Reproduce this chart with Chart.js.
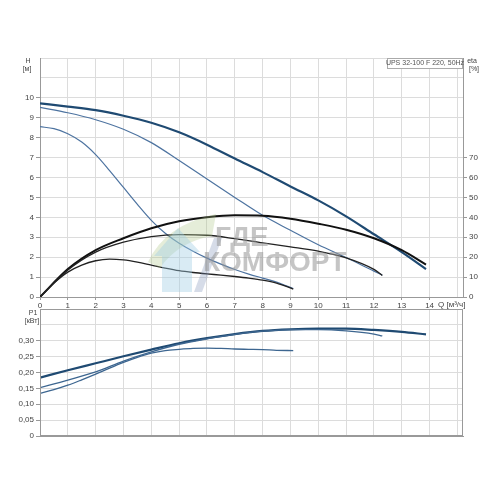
<!DOCTYPE html>
<html>
<head>
<meta charset="utf-8">
<script src="https://cdn.jsdelivr.net/npm/chart.js@4.4.1/dist/chart.umd.min.js"></script>
<style>
  body { margin: 0; background: #fff; }
  #wrap { position: relative; width: 496px; height: 496px; background: #fff; }
  canvas { position: absolute; left: 0; }
  #topChart { top: 0; }
  #bottomChart { top: 300px; }
</style>
</head>
<body>
<div id="wrap">
  <canvas id="topChart" width="496" height="318"></canvas>
  <canvas id="bottomChart" width="496" height="196"></canvas>
</div>
<script>
// Flow points per speed [m3/h]
const qSpeed3 = [0, 1, 2, 3, 4, 5, 6, 7, 8, 9, 10, 11, 12, 13, 13.87];
const qSpeed2 = [0, 1, 2, 3, 4, 5, 6, 7, 8, 9, 10, 11, 12, 12.3];
const qSpeed1 = [0, 0.5, 1, 1.5, 2, 2.5, 3, 3.5, 4, 4.5, 5, 5.5, 6, 6.5, 7, 7.5, 8, 8.5, 9.1];

// Head H [m]
const headSpeed3 = [9.72, 9.56, 9.38, 9.1, 8.75, 8.27, 7.65, 6.95, 6.27, 5.55, 4.85, 4.05, 3.15, 2.25, 1.4];
const headSpeed2 = [9.52, 9.25, 8.9, 8.42, 7.75, 6.85, 5.92, 5.0, 4.1, 3.35, 2.62, 1.98, 1.3, 1.1];
const headSpeed1 = [8.55, 8.45, 8.2, 7.78, 7.15, 6.35, 5.5, 4.65, 3.85, 3.2, 2.7, 2.3, 1.95, 1.65, 1.38, 1.15, 0.95, 0.75, 0.42];

// Efficiency eta [%]
const etaSpeed3 = [0, 14, 23.5, 29.5, 34.5, 38, 40, 41, 40.8, 39.3, 36.8, 33.8, 29.5, 23.5, 16.3];
const etaSpeed2 = [0, 13.5, 22.5, 27.5, 30.3, 31.3, 31, 29.3, 27.2, 25.2, 23, 19.7, 13.9, 10.8];
const etaSpeed1 = [0, 7, 12.5, 16, 18.2, 19, 18.6, 17.5, 16, 14.5, 13.2, 12.3, 11.6, 11, 10.3, 9.5, 8.5, 7, 4];

// Power P1 [kW]
const powerSpeed3 = [0.184, 0.207, 0.229, 0.251, 0.272, 0.292, 0.308, 0.321, 0.331, 0.336, 0.338, 0.338, 0.334, 0.328, 0.32];
const powerSpeed2 = [0.152, 0.176, 0.202, 0.236, 0.265, 0.289, 0.306, 0.32, 0.33, 0.335, 0.335, 0.331, 0.321, 0.315];
const powerSpeed1 = [0.134, 0.146, 0.16, 0.177, 0.195, 0.214, 0.232, 0.248, 0.261, 0.269, 0.273, 0.276, 0.277, 0.276, 0.274, 0.273, 0.272, 0.27, 0.269];

// Tick labels
const qTicks = [0, 1, 2, 3, 4, 5, 6, 7, 8, 9, 10, 11, 12, 13, 14, 15];
const hTicks = [0, 1, 2, 3, 4, 5, 6, 7, 8, 9, 10, 11, 12];
const etaTicks = [0, 10, 20, 30, 40, 50, 60, 70];
const pTicks = [0, 0.05, 0.1, 0.15, 0.2, 0.25, 0.3, 0.35, 0.4];

const pumpLabel = 'UPS 32-100 F 220, 50Hz';

Chart.defaults.font.family = '"Liberation Sans", Arial, sans-serif';
Chart.defaults.font.size = 8;
Chart.defaults.color = '#444';

const GRID = '#dcdcdc';
const AXIS = '#999';
const DARK_BLUE = '#1f4a72';
const BLUE = '#4d73a0';

function pts(xs, ys) {
    return xs.map((x, i) => ({ x: x, y: ys[i] }));
}

function curve(label, xs, ys, color, width, axis) {
    return {
        label: label,
        data: pts(xs, ys),
        borderColor: color,
        borderWidth: width,
        pointRadius: 0,
        fill: false,
        cubicInterpolationMode: 'monotone',
        yAxisID: axis
    };
}

// Text around the upper plot, watermark and the pump label box
const topDecor = {
    id: 'topDecor',
    afterDatasetsDraw(chart) {
        const ctx = chart.ctx;
        ctx.save();
        // logo
        ctx.fillStyle = 'rgba(170, 195, 130, 0.3)';
        ctx.beginPath();
        ctx.moveTo(148, 262);
        ctx.quadraticCurveTo(165, 225, 216, 214);
        ctx.lineTo(212, 236);
        ctx.quadraticCurveTo(178, 242, 160, 268);
        ctx.closePath();
        ctx.fill();
        ctx.fillStyle = 'rgba(160, 205, 228, 0.4)';
        ctx.beginPath();
        ctx.moveTo(162, 292);
        ctx.lineTo(162, 256);
        ctx.lineTo(154, 256);
        ctx.lineTo(178, 228);
        ctx.lineTo(200, 252);
        ctx.lineTo(192, 252);
        ctx.lineTo(192, 292);
        ctx.closePath();
        ctx.fill();
        ctx.fillStyle = 'rgba(120, 140, 180, 0.3)';
        ctx.beginPath();
        ctx.moveTo(194, 292);
        ctx.lineTo(214, 238);
        ctx.lineTo(222, 238);
        ctx.lineTo(202, 292);
        ctx.closePath();
        ctx.fill();
        // watermark text
        ctx.fillStyle = 'rgba(150, 150, 150, 0.55)';
        ctx.font = 'bold 28px "Liberation Sans", Arial, sans-serif';
        ctx.textAlign = 'left';
        ctx.textBaseline = 'alphabetic';
        ctx.fillText('ГДЕ', 215, 246);
        ctx.fillText('КОМФОРТ', 203, 271);
        ctx.restore();
    },
    afterDraw(chart) {
        const ctx = chart.ctx;
        const area = chart.chartArea;
        ctx.save();
        ctx.fillStyle = '#444';
        ctx.font = '7px "Liberation Sans", Arial, sans-serif';
        ctx.textAlign = 'center';
        ctx.textBaseline = 'middle';
        ctx.fillText('H', 28, 61);
        ctx.fillText('[м]', 27, 69);
        ctx.fillText('eta', 472, 61);
        ctx.fillText('[%]', 474, 69);
        ctx.font = '8px "Liberation Sans", Arial, sans-serif';
        ctx.textAlign = 'left';
        ctx.fillText('Q [м³/ч]', 438, 305);
        // pump label box
        ctx.fillStyle = '#fff';
        ctx.fillRect(387, area.top, area.right - 387, 10);
        ctx.strokeStyle = '#aaa';
        ctx.lineWidth = 1;
        ctx.strokeRect(387.5, area.top + 0.5, area.right - 388, 10);
        ctx.fillStyle = '#555';
        ctx.font = '7px "Liberation Sans", Arial, sans-serif';
        ctx.textAlign = 'center';
        ctx.fillText(pumpLabel, (387 + area.right) / 2, area.top + 5.5);
        ctx.restore();
    }
};

const bottomDecor = {
    id: 'bottomDecor',
    afterDraw(chart) {
        const ctx = chart.ctx;
        const a = chart.chartArea;
        ctx.save();
        ctx.strokeStyle = AXIS;
        ctx.lineWidth = 1;
        ctx.strokeRect(Math.round(a.left) + 0.5, Math.round(a.top) + 0.5,
            Math.round(a.right - a.left) - 1, Math.round(a.bottom - a.top) - 1);
        ctx.fillStyle = '#444';
        ctx.font = '7px "Liberation Sans", Arial, sans-serif';
        ctx.textAlign = 'center';
        ctx.textBaseline = 'middle';
        ctx.fillText('P1', 33, 13);
        ctx.fillText('[кВт]', 32, 21);
        ctx.restore();
    }
};

new Chart(document.getElementById('topChart'), {
    type: 'line',
    data: {
        datasets: [
            curve('eta 1', qSpeed1, etaSpeed1, '#222', 1.3, 'y2'),
            curve('eta 2', qSpeed2, etaSpeed2, '#222', 1.3, 'y2'),
            curve('eta 3', qSpeed3, etaSpeed3, '#111', 2, 'y2'),
            curve('H 1', qSpeed1, headSpeed1, BLUE, 1.2, 'y'),
            curve('H 2', qSpeed2, headSpeed2, BLUE, 1.2, 'y'),
            curve('H 3', qSpeed3, headSpeed3, DARK_BLUE, 2.2, 'y')
        ]
    },
    options: {
        responsive: false,
        animation: false,
        devicePixelRatio: 1,
        layout: { padding: { top: 58, left: 0, right: 0, bottom: 0 } },
        plugins: { legend: { display: false }, tooltip: { enabled: false } },
        scales: {
            x: {
                type: 'linear',
                min: 0,
                max: 15.2,
                afterBuildTicks: s => { s.ticks = qTicks.map(v => ({ value: v })); },
                afterFit: s => { s.height = 21; },
                ticks: {
                    padding: 1,
                    maxRotation: 0,
                    callback: v => (v <= 14 ? v : '')
                },
                grid: { color: GRID, tickLength: 3, tickColor: ctx => (ctx.tick && ctx.tick.value <= 14 ? AXIS : 'transparent') },
                border: { color: AXIS }
            },
            y: {
                position: 'left',
                min: 0,
                max: 12,
                afterBuildTicks: s => { s.ticks = hTicks.map(v => ({ value: v })); },
                afterFit: s => { s.width = 40; },
                ticks: { padding: 2, callback: v => (v <= 10 ? v : '') },
                grid: { color: GRID, tickLength: 4, tickColor: ctx => (ctx.tick && ctx.tick.value <= 10 ? AXIS : 'transparent') },
                border: { color: AXIS }
            },
            y2: {
                position: 'right',
                min: 0,
                max: 120,
                afterBuildTicks: s => { s.ticks = etaTicks.map(v => ({ value: v })); },
                afterFit: s => { s.width = 33; },
                ticks: { padding: 2 },
                grid: { drawOnChartArea: false, tickLength: 4, tickColor: AXIS },
                border: { color: AXIS }
            }
        }
    },
    plugins: [topDecor]
});

new Chart(document.getElementById('bottomChart'), {
    type: 'line',
    data: {
        datasets: [
            curve('P1 1', qSpeed1, powerSpeed1, '#3d6690', 1.3, 'y'),
            curve('P1 2', qSpeed2, powerSpeed2, '#3d6690', 1.3, 'y'),
            curve('P1 3', qSpeed3, powerSpeed3, DARK_BLUE, 2.2, 'y')
        ]
    },
    options: {
        responsive: false,
        animation: false,
        devicePixelRatio: 1,
        layout: { padding: { top: 9, left: 0, right: 33, bottom: 60 } },
        plugins: { legend: { display: false }, tooltip: { enabled: false } },
        scales: {
            x: {
                type: 'linear',
                min: 0,
                max: 15.2,
                afterBuildTicks: s => { s.ticks = qTicks.map(v => ({ value: v })); },
                afterFit: s => { s.height = 0; },
                ticks: { display: false },
                grid: { color: GRID, drawTicks: false },
                border: { color: AXIS }
            },
            y: {
                position: 'left',
                min: 0,
                max: 0.4,
                afterBuildTicks: s => { s.ticks = pTicks.map(v => ({ value: v })); },
                afterFit: s => { s.width = 40; },
                ticks: {
                    padding: 2,
                    callback: v => (v > 0.31 ? '' : (v === 0 ? '0' : v.toFixed(2).replace('.', ',')))
                },
                grid: { color: GRID, tickLength: 4, tickColor: ctx => (ctx.tick && ctx.tick.value <= 0.31 ? AXIS : 'transparent') },
                border: { color: AXIS }
            }
        }
    },
    plugins: [bottomDecor]
});
</script>
</body>
</html>
